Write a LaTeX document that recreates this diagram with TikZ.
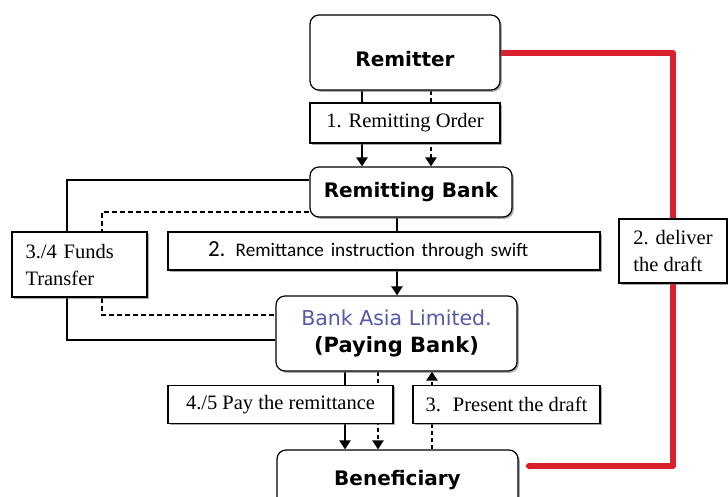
\documentclass[tikz,border=0pt]{standalone}
\usepackage{fontspec}
\setmainfont{Liberation Serif}
\newfontfamily\boxsans{DejaVu Sans}
\newfontfamily\calib{Carlito}
\usetikzlibrary{arrows.meta,calc,shadows,backgrounds}
\definecolor{asiablue}{RGB}{88,88,168}
\definecolor{draftred}{RGB}{218,32,44}

\tikzset{
  boxshadow/.style={drop shadow={shadow xshift=1.8pt,shadow yshift=-1.8pt,opacity=0.55,fill=black!60}},
  party/.style={draw, line width=1.2pt, rounded corners=9pt, fill=white, boxshadow,
    inner sep=0pt, font=\boxsans\bfseries\fontsize{20}{22}\selectfont},
  note/.style={draw, line width=1.1pt, fill=white, boxshadow, inner sep=0pt,
    font=\fontsize{20.5}{27}\selectfont},
  flow/.style={line width=2.4pt, -{Triangle[width=11pt,length=9pt]}},
  dflow/.style={flow, dash pattern=on 4pt off 3pt},
  link/.style={line width=1.4pt},
  dlink/.style={line width=1.7pt, dash pattern=on 5pt off 3pt},
  redline/.style={draftred, line width=6pt, line cap=round, line join=round}
}

\begin{document}
\begin{tikzpicture}[x=1pt,y=-1pt]
\useasboundingbox (0,0) rectangle (728,497);
\clip (0,0) rectangle (728,497);

% parties
\node[party, minimum width=190, minimum height=75, text height=28pt, text depth=0pt] (remitter) at (405,52.5) {Remitter};
\node[party, minimum width=202, minimum height=50] (rbank) at (411,192) {Remitting Bank};
\node[party, minimum width=241, minimum height=75, align=center, font=\boxsans\bfseries\fontsize{21}{27}\selectfont] (pbank) at (396.5,333.5)
  {{\mdseries\fontsize{20.5}{27}\selectfont\color{asiablue}Bank Asia Limited.}\\(Paying Bank)};
\node[party, minimum width=241, minimum height=60] (benef) at (397.5,480) {Beneficiary};

% steps
\node[note, minimum width=190, minimum height=40] (order) at (405,123) {1. Remitting Order};
\node[note, minimum width=432, minimum height=38, text width=352, align=left] (instr) at (384,251)
  {\calib\fontsize{23}{24}\selectfont 2. \fontsize{19.2}{24}\selectfont Remittance instruction through swift};
\node[note, minimum width=135, minimum height=65, text width=108, align=left] (funds) at (79.5,264.5) {3./4 Funds\\Transfer};
\node[note, minimum width=225, minimum height=38] (pay) at (280.5,404.5) {4./5 Pay the remittance};
\node[note, minimum width=187, minimum height=38] (present) at (506.5,404.5) {3.~ Present the draft};
\node[note, minimum width=108, minimum height=64, align=left] (deliver) at (673,251) {2. deliver\\the draft};

\begin{scope}[on background layer]
% remitter to remitting bank
\draw[flow] ($(remitter.south)+(-43,0)$) coordinate (o1) -- (o1 |- rbank.north);
\draw[dflow] ($(remitter.south)+(26,0)$) coordinate (o2) -- (o2 |- rbank.north);
% swift instruction
\draw[flow] ($(rbank.south)+(-14,0)$) coordinate (s1) -- (s1 |- pbank.north);
% funds transfer
\draw[link] ($(rbank.west)+(0,-12)$) -| ($(funds.north)+(-12.5,0)$);
\draw[dlink] ($(rbank.west)+(0,20)$) -| ($(funds.north)+(22.5,0)$);
\draw[dlink] ($(funds.south)+(22.5,0)$) |- ($(pbank.west)+(0,-18.5)$);
\draw[link] ($(funds.south)+(-12.5,0)$) |- ($(pbank.west)+(0,6.5)$);
% paying bank and beneficiary
\draw[flow] ($(pbank.south)+(-51.5,0)$) coordinate (p1) -- (p1 |- benef.north);
\draw[dflow] ($(pbank.south)+(-18.5,0)$) coordinate (p2) -- (p2 |- benef.north);
\draw[dflow] ($(benef.north)+(34.5,0)$) coordinate (p3) -- (p3 |- pbank.south);
% draft delivered
\draw[redline] ($(remitter.east)+(0,0.5)$) -| (deliver.north);
\draw[redline, -{Stealth[length=6pt,width=9pt,round]}] (deliver.south) |- ($(benef.east)+(7,-14)$);
\end{scope}
\end{tikzpicture}
\end{document}
